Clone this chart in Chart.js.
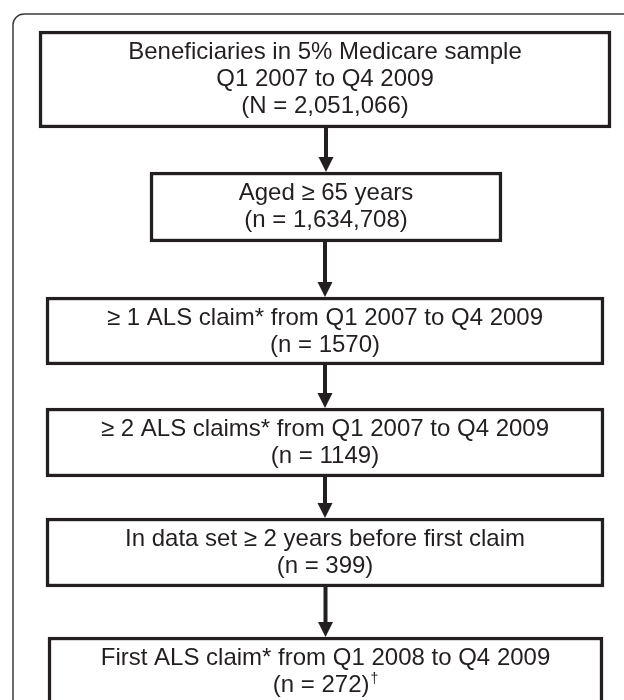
<!DOCTYPE html>
<html>
<head>
<meta charset="utf-8">
<title>ALS cohort selection</title>
<script src="https://cdn.jsdelivr.net/npm/chart.js@4.4.1/dist/chart.umd.min.js"></script>
<style>
  html, body { margin: 0; padding: 0; background: #fff; }
  canvas { display: block; }
</style>
</head>
<body>
<canvas id="flowChart" width="624" height="700"></canvas>
<script>
// Step descriptions (one entry per box, lines top to bottom)
const stepText = [
    ['Beneficiaries in 5% Medicare sample', 'Q1 2007 to Q4 2009'],
    ['Aged \u2265 65 years'],
    ['\u2265 1 ALS claim* from Q1 2007 to Q4 2009'],
    ['\u2265 2 ALS claims* from Q1 2007 to Q4 2009'],
    ['In data set \u2265 2 years before first claim'],
    ['First ALS claim* from Q1 2008 to Q4 2009']
];
const countSymbol = ['N', 'n', 'n', 'n', 'n', 'n'];
const counts = [2051066, 1634708, 1570, 1149, 399, 272];
const footnotes = ['', '', '', '', '', '\u2020'];

// Layout (scale units = canvas pixels), outer edges of each box
const boxLeft = [39, 150, 46, 46, 46, 48];
const boxRight = [611, 502, 604, 604, 604, 603];
const boxTop = [31, 172, 297, 408, 518, 637];
const boxBottom = [128, 242, 365, 477, 587, 705];

const ink = '#231f20';
const fontSize = 24;
const lineGap = 27;
const firstBaseline = 28;

function formatCount(n) {
    return n >= 10000 ? n.toLocaleString('en-US') : String(n);
}

const flowPlugin = {
    id: 'flow',
    beforeDatasetsDraw(chart) {
        // outer rounded frame
        const ctx = chart.ctx;
        ctx.save();
        ctx.strokeStyle = '#3c3c3c';
        ctx.lineWidth = 1.5;
        ctx.beginPath();
        ctx.roundRect(13, 14, 640, 720, 11);
        ctx.stroke();
        ctx.restore();
    },
    afterDatasetsDraw(chart) {
        const ctx = chart.ctx;
        const x = chart.scales.x;
        const y = chart.scales.y;
        ctx.save();

        // arrows between boxes
        ctx.fillStyle = ink;
        for (let i = 0; i < stepText.length - 1; i++) {
            const cx = x.getPixelForValue((boxLeft[i + 1] + boxRight[i + 1]) / 2);
            const y0 = y.getPixelForValue(boxBottom[i]);
            const y1 = y.getPixelForValue(boxTop[i + 1]);
            const head = 15;
            ctx.fillRect(cx - 2, y0, 4, y1 - y0 - head + 1);
            ctx.beginPath();
            ctx.moveTo(cx - 7.5, y1 - head);
            ctx.lineTo(cx + 7.5, y1 - head);
            ctx.lineTo(cx, y1);
            ctx.closePath();
            ctx.fill();
        }

        // box text
        ctx.font = fontSize + 'px "Liberation Sans", Arial, Helvetica, sans-serif';
        ctx.textBaseline = 'alphabetic';
        stepText.forEach((lines, i) => {
            const cx = x.getPixelForValue((boxLeft[i] + boxRight[i]) / 2);
            const top = y.getPixelForValue(boxTop[i]);
            const all = lines.concat(['(' + countSymbol[i] + ' = ' + formatCount(counts[i]) + ')']);
            all.forEach((line, j) => {
                const by = top + firstBaseline + j * lineGap;
                const isLast = j === all.length - 1;
                if (isLast && footnotes[i]) {
                    ctx.font = fontSize + 'px "Liberation Sans", Arial, sans-serif';
                    const w = ctx.measureText(line).width;
                    ctx.font = '14px "Liberation Sans", Arial, sans-serif';
                    const fw = ctx.measureText(footnotes[i]).width;
                    const start = cx - (w + fw + 1) / 2;
                    ctx.textAlign = 'left';
                    ctx.fillText(footnotes[i], start + w + 1, by - 9);
                    ctx.font = fontSize + 'px "Liberation Sans", Arial, sans-serif';
                    ctx.fillText(line, start, by);
                } else {
                    ctx.textAlign = 'center';
                    ctx.fillText(line, cx, by);
                }
            });
        });
        ctx.restore();
    }
};

const ctx = document.getElementById('flowChart').getContext('2d');
new Chart(ctx, {
    type: 'bar',
    data: {
        datasets: stepText.map((lines, i) => ({
            label: lines[0],
            data: [{ x: [boxLeft[i], boxRight[i]], y: (boxTop[i] + boxBottom[i]) / 2 }],
            barThickness: boxBottom[i] - boxTop[i],
            grouped: false,
            backgroundColor: '#ffffff',
            borderColor: ink,
            borderWidth: 3.5,
            borderSkipped: false
        }))
    },
    options: {
        indexAxis: 'y',
        responsive: false,
        animation: false,
        layout: { padding: 0 },
        scales: {
            x: { type: 'linear', min: 0, max: 624, display: false },
            y: { type: 'linear', min: 0, max: 700, reverse: true, offset: false, display: false }
        },
        plugins: {
            legend: { display: false },
            tooltip: { enabled: false }
        }
    },
    plugins: [flowPlugin]
});
</script>
</body>
</html>
